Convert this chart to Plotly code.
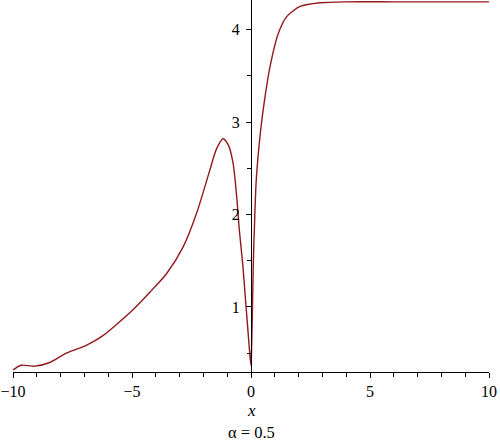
import plotly.graph_objects as go

# Values
x_vals = [-10, -9.65, -9.08, -8.46, -7.76, -6.92, -6.22, -5.52, -4.96, -4.25,
          -3.55, -2.85, -2.29, -1.73, -1.45, -1.17, -0.95, -0.75, -0.60, -0.49,
          -0.35, -0.24, -0.13, -0.04, 0.0,
          0.03, 0.07, 0.10, 0.14, 0.22, 0.40, 0.57, 0.80, 1.15, 1.50,
          2.06, 2.9, 4.0, 6.0, 8.0, 10.0]
y_vals = [0.32, 0.37, 0.36, 0.40, 0.50, 0.585, 0.69, 0.84, 0.97, 1.16,
          1.36, 1.65, 2.01, 2.48, 2.71, 2.82, 2.75, 2.55, 2.19, 1.83,
          1.47, 1.11, 0.75, 0.46, 0.37,
          0.60, 1.11, 1.50, 1.83, 2.37, 2.90, 3.24, 3.60, 3.96, 4.14,
          4.25, 4.29, 4.30, 4.30, 4.30, 4.30]

x_ticks = [-10, -5, 0, 5, 10]
y_ticks = [1, 2, 3, 4]
x_title = "x"
caption = "α = 0.5"

font_family = "Liberation Serif, Times New Roman, serif"
curve_color = "rgb(145,25,30)"

fig = go.Figure()
fig.add_trace(go.Scatter(
    x=x_vals, y=y_vals, mode="lines",
    line=dict(color=curve_color, width=1.4, shape="spline", smoothing=0.7),
    showlegend=False, hoverinfo="skip",
))

fig.update_layout(
    width=500, height=446,
    margin=dict(l=13, r=11, t=0, b=74),
    paper_bgcolor="white", plot_bgcolor="white",
    font=dict(family=font_family, size=16, color="black"),
    xaxis=dict(
        range=[-10, 10], domain=[0, 1],
        showgrid=False, zeroline=False,
        showline=True, linecolor="black", linewidth=1,
        ticks="outside", ticklen=5, tickwidth=1, tickcolor="black",
        tickvals=x_ticks, ticktext=[("−" + str(-v)) if v < 0 else str(v) for v in x_ticks],
        minor=dict(dtick=1, ticks="outside", ticklen=4, tickcolor="black", showgrid=False),
        tickfont=dict(family=font_family, size=16),
        fixedrange=True,
    ),
    yaxis=dict(
        range=[0.297, 4.32],
        anchor="free", position=0.5,
        showgrid=False, zeroline=False,
        showline=True, linecolor="black", linewidth=1,
        ticks="outside", ticklen=5, tickwidth=1, tickcolor="black",
        tickvals=y_ticks,
        ticklabelstandoff=3,
        minor=dict(dtick=0.5, tick0=0, ticks="outside", ticklen=4, tickcolor="black", showgrid=False),
        tickfont=dict(family=font_family, size=16),
        fixedrange=True,
    ),
    annotations=[
        dict(text="<i>" + x_title + "</i>", xref="paper", yref="paper", x=0.5, y=0,
             xanchor="center", yanchor="middle", yshift=-38, showarrow=False,
             font=dict(family=font_family, size=17)),
        dict(text=caption, xref="paper", yref="paper", x=0.5, y=0,
             xanchor="center", yanchor="middle", yshift=-60, showarrow=False,
             font=dict(family=font_family, size=16.5)),
    ],
)

fig.write_html(
    "out.html",
    config={"displayModeBar": False},
    post_script="document.body.style.margin='0';document.body.style.padding='0';",
)
